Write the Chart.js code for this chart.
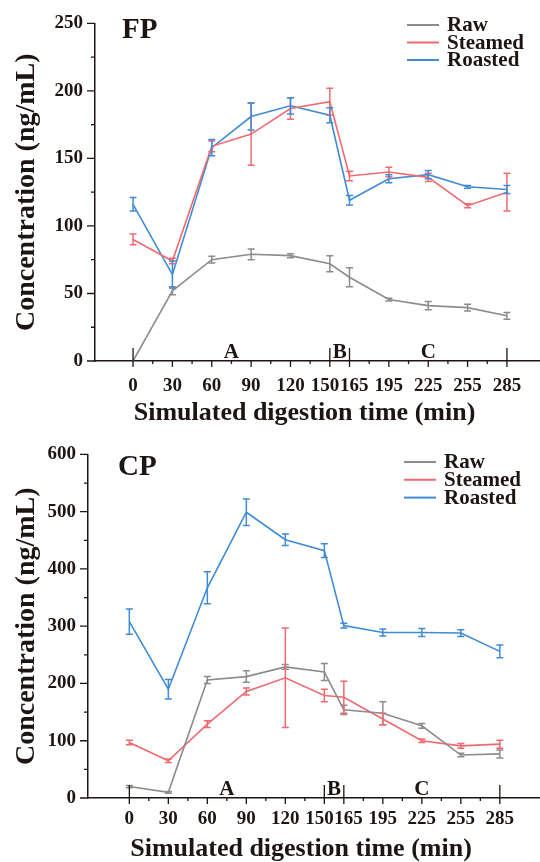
<!DOCTYPE html>
<html>
<head>
<meta charset="utf-8">
<script src="https://cdn.jsdelivr.net/npm/chart.js@4/dist/chart.umd.min.js"></script>
<style>
body { margin: 0; background: #fff; }
.box { position: relative; width: 540px; height: 431px; }
</style>
</head>
<body>
<div class="box"><canvas id="fpChart" width="540" height="431"></canvas></div>
<div class="box"><canvas id="cpChart" width="540" height="431"></canvas></div>
<script>
// shared x values and labels
const times = [0, 30, 60, 90, 120, 150, 165, 195, 225, 255, 285];
const tickLabels = ["0", "30", "60", "90", "120", "150\u2002", "\u2002165", "195", "225", "255", "285"];
const seriesNames = ["Raw", "Steamed", "Roasted"];
const phaseLabels = ["A", "B", "C"];
const phaseCenters = [75, 157.5, 225];
const phaseEdges = [0, 150, 165, 285];

// FP panel
const fpRaw = [0, 52, 75, 79, 78, 72, 62, 45.5, 41, 39.5, 33.5];
const fpRawErr = [0, 3, 2.5, 4, 1.5, 6, 7, 1, 3, 2.5, 2.5];
const fpSteamed = [90, 74, 159, 168, 187, 192, 137, 140, 136, 115, 125];
const fpSteamedErr = [4, 2, 4, 23, 8, 10, 3.5, 3.5, 3, 1.5, 14];
const fpRoasted = [116, 64, 158, 181, 189, 182, 119, 135, 138, 129, 127];
const fpRoastedErr = [5, 10, 6, 10, 6, 5.5, 3.5, 3, 3, 1, 3];

// CP panel
const cpRaw = [20, 10, 206, 212, 229, 220, 154, 148, 126, 75, 77];
const cpRawErr = [2, 1.5, 6, 10, 4, 15, 8, 20, 4, 3, 7];
const cpSteamed = [97, 65, 129, 186, 210, 179, 176, 138, 100, 91, 94];
const cpSteamedErr = [4, 3, 6, 6, 87, 11, 28, 10, 3, 4, 7];
const cpRoasted = [308, 190, 367, 499, 451, 432, 301, 289, 289, 288, 256];
const cpRoastedErr = [22, 17, 28, 23, 10, 12, 4, 6, 7, 6, 11];

const colors = ["#8c8c8c", "#ef6a70", "#3f8bd5"];
const FONT = "'Liberation Serif', 'Times New Roman', serif";

Chart.defaults.font.family = FONT;
Chart.defaults.font.weight = "bold";
Chart.defaults.color = "#1c1512";

const decor = {
  id: "decor",
  afterDatasetsDraw(chart) {
    const ctx = chart.ctx;
    const xs = chart.scales.x, ys = chart.scales.y;
    chart.data.datasets.forEach(ds => {
      ctx.save();
      ctx.strokeStyle = ds.borderColor;
      ctx.lineWidth = 1.5;
      ds.data.forEach((p, j) => {
        const e = ds.errors[j];
        if (!e) return;
        const px = xs.getPixelForValue(p.x);
        const top = ys.getPixelForValue(p.y + e);
        const bot = ys.getPixelForValue(p.y - e);
        ctx.beginPath();
        ctx.moveTo(px, top); ctx.lineTo(px, bot);
        ctx.moveTo(px - 3.5, top); ctx.lineTo(px + 3.5, top);
        ctx.moveTo(px - 3.5, bot); ctx.lineTo(px + 3.5, bot);
        ctx.stroke();
      });
      ctx.restore();
    });
  },
  afterDraw(chart, args, o) {
    const ctx = chart.ctx;
    const xs = chart.scales.x, ys = chart.scales.y;
    const area = chart.chartArea;
    ctx.save();
    ctx.strokeStyle = "#1c1512";
    ctx.lineWidth = 1.3;
    ctx.beginPath();
    // x ticks every 15 min, outward
    for (let t = 0; t <= 285; t += 15) {
      const px = xs.getPixelForValue(t);
      const len = times.includes(t) ? 6 : 3;
      ctx.moveTo(px, area.bottom); ctx.lineTo(px, area.bottom + len);
    }
    // phase dividers
    phaseEdges.forEach(t => {
      const px = xs.getPixelForValue(t);
      ctx.moveTo(px, area.bottom); ctx.lineTo(px, area.bottom - 13);
    });
    // y ticks, outward
    for (let v = 0; v <= o.ymax; v += o.ystep / 2) {
      const py = ys.getPixelForValue(v);
      const len = v % o.ystep === 0 ? 8 : 4;
      ctx.moveTo(area.left, py); ctx.lineTo(area.left - len, py);
    }
    ctx.stroke();

    // phase letters
    ctx.fillStyle = "#1c1512";
    ctx.font = "bold 21px " + FONT;
    ctx.textAlign = "center";
    ctx.textBaseline = "alphabetic";
    phaseLabels.forEach((s, i) => {
      ctx.fillText(s, xs.getPixelForValue(phaseCenters[i]), area.bottom - 3);
    });

    // panel title
    ctx.textAlign = "left";
    ctx.font = "bold 29px " + FONT;
    ctx.fillText(o.title, o.titleX, o.titleY);

    // legend
    ctx.font = "bold 21px " + FONT;
    ctx.textBaseline = "middle";
    chart.data.datasets.forEach((ds, i) => {
      const ly = o.legY + i * o.legGap;
      ctx.strokeStyle = ds.borderColor;
      ctx.lineWidth = 2;
      ctx.beginPath();
      ctx.moveTo(o.legX, ly); ctx.lineTo(o.legX + 32, ly);
      ctx.stroke();
      ctx.fillText(ds.label, o.legX + 40, ly + 1);
    });
    ctx.restore();
  }
};

function makeChart(id, cfg) {
  const datasets = cfg.series.map((vals, i) => ({
    label: seriesNames[i],
    data: times.map((t, j) => ({ x: t, y: vals[j] })),
    errors: cfg.errors[i],
    borderColor: colors[i],
    backgroundColor: colors[i],
    borderWidth: 1.6,
    pointRadius: 0,
    tension: 0
  }));
  return new Chart(document.getElementById(id), {
    type: "line",
    data: { datasets: datasets },
    options: {
      responsive: false,
      animation: false,
      devicePixelRatio: 1,
      layout: { padding: { top: cfg.top, right: 0, left: 0, bottom: 0 } },
      plugins: {
        legend: { display: false },
        tooltip: { enabled: false },
        decor: cfg.decor
      },
      scales: {
        x: {
          type: "linear",
          min: cfg.xmin,
          max: cfg.xmax,
          afterBuildTicks: s => { s.ticks = times.map(v => ({ value: v })); },
          afterFit: s => { s.height = 431 - cfg.bottom; },
          grid: { display: false, drawTicks: false },
          border: { display: true, color: "#1c1512", width: 1.5 },
          ticks: {
            autoSkip: false,
            maxRotation: 0,
            padding: cfg.tickPad,
            font: { size: 19, weight: "bold" },
            callback: (v, i) => tickLabels[i]
          },
          title: {
            display: true,
            text: "Simulated digestion time (min)\u2003",
            font: { size: 26, weight: "bold", lineHeight: 1 },
            padding: { top: 0, bottom: cfg.titlePad }
          }
        },
        y: {
          min: 0,
          max: cfg.decor.ymax,
          afterFit: s => { s.width = cfg.left; },
          grid: { display: false, drawTicks: false },
          border: { display: true, color: "#1c1512", width: 1.5 },
          ticks: {
            stepSize: cfg.decor.ystep,
            padding: 12,
            font: { size: 19, weight: "bold" }
          },
          title: {
            display: true,
            text: "Concentration (ng/mL)",
            font: { size: 28, weight: "bold" },
            padding: { top: 10, bottom: 0 }
          }
        }
      }
    },
    plugins: [decor]
  });
}

makeChart("fpChart", {
  series: [fpRaw, fpSteamed, fpRoasted],
  errors: [fpRawErr, fpSteamedErr, fpRoastedErr],
  xmin: -29, xmax: 310.2,
  left: 95, top: 16, bottom: 361, tickPad: 14, titlePad: 5,
  decor: { ymax: 250, ystep: 50, title: "FP", titleX: 122, titleY: 38,
           legX: 407, legY: 25, legGap: 17.5 }
});

makeChart("cpChart", {
  series: [cpRaw, cpSteamed, cpRoasted],
  errors: [cpRawErr, cpSteamedErr, cpRoastedErr],
  xmin: -31.8, xmax: 315.9,
  left: 88, top: 23, bottom: 367, tickPad: 10, titlePad: 0,
  decor: { ymax: 600, ystep: 100, title: "CP", titleX: 118, titleY: 44,
           legX: 404, legY: 31, legGap: 17.8 }
});
</script>
</body>
</html>
